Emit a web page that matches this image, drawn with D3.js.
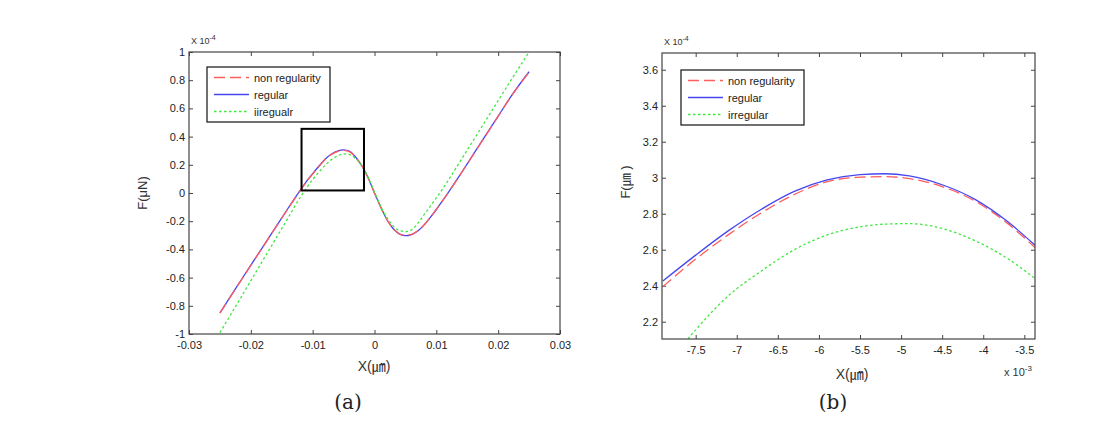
<!DOCTYPE html>
<html>
<head>
<meta charset="utf-8">
<script src="https://cdn.jsdelivr.net/npm/d3@7"></script>
<style>
  html, body { margin: 0; padding: 0; background: #fff; }
  svg { display: block; }
  text { font-family: "Liberation Sans", Arial, "Noto Sans CJK KR", sans-serif; }
</style>
</head>
<body>
<svg id="chart" width="1106" height="422"></svg>
<script>
// ---------- DATA ----------
const seriesNames = ["non regularity", "regular", "iiregualr"];
const seriesNamesB = ["non regularity", "regular", "irregular"];

// Panel (a): X in µm, F in units of 1e-4 µN
const xA = [-0.025, -0.022, -0.020, -0.018, -0.016, -0.014, -0.012, -0.011, -0.010, -0.009,
            -0.008, -0.007, -0.006, -0.005, -0.004, -0.003, -0.002, -0.001, 0, 0.001,
            0.002, 0.003, 0.004, 0.005, 0.006, 0.007, 0.008, 0.009, 0.010, 0.011,
            0.012, 0.014, 0.016, 0.018, 0.020, 0.022, 0.025];
const regularA = [-0.85, -0.647, -0.512, -0.378, -0.244, -0.11, 0.02, 0.083, 0.138, 0.19,
                  0.24, 0.275, 0.297, 0.306, 0.295, 0.252, 0.19, 0.105, 0.0, -0.1,
                  -0.188, -0.252, -0.29, -0.303, -0.295, -0.27, -0.228, -0.175, -0.117, -0.055,
                  0.008, 0.14, 0.275, 0.41, 0.545, 0.68, 0.86];
const nonRegA = [-0.852, -0.648, -0.513, -0.379, -0.246, -0.112, 0.017, 0.08, 0.135, 0.187,
                 0.237, 0.272, 0.294, 0.302, 0.292, 0.25, 0.189, 0.104, -0.001, -0.1,
                 -0.188, -0.251, -0.289, -0.301, -0.293, -0.268, -0.227, -0.174, -0.116, -0.055,
                 0.007, 0.139, 0.274, 0.409, 0.544, 0.679, 0.857];
const irregA = [-0.99, -0.77, -0.622, -0.474, -0.326, -0.178, -0.03, 0.035, 0.095, 0.148,
                0.195, 0.235, 0.263, 0.277, 0.272, 0.243, 0.19, 0.108, 0.005, -0.095,
                -0.175, -0.233, -0.266, -0.274, -0.262, -0.215, -0.155, -0.095, -0.035, 0.028,
                0.095, 0.235, 0.375, 0.515, 0.655, 0.795, 1.0];
const zoomBoxA = { x0: -0.0118, x1: -0.0017, y0: 0.018, y1: 0.455 };

const xTicksA = [-0.03, -0.02, -0.01, 0, 0.01, 0.02, 0.03];
const xLabelsA = ["-0.03", "-0.02", "-0.01", "0", "0.01", "0.02", "0.03"];
const yTicksA = [-1, -0.8, -0.6, -0.4, -0.2, 0, 0.2, 0.4, 0.6, 0.8, 1];
const yLabelsA = ["-1", "-0.8", "-0.6", "-0.4", "-0.2", "0", "0.2", "0.4", "0.6", "0.8", "1"];

// Panel (b): X in units of 1e-3, F in units of 1e-4
const xB = [-7.9, -7.5, -7.1, -6.7, -6.3, -5.9, -5.5, -5.2, -4.9, -4.5, -4.1, -3.7, -3.37];
const regularB = [2.426, 2.57, 2.706, 2.825, 2.924, 2.988, 3.017, 3.022, 3.01, 2.961, 2.88, 2.755, 2.625];
const nonRegB = [2.395, 2.548, 2.684, 2.805, 2.907, 2.978, 3.003, 3.006, 2.995, 2.951, 2.87, 2.745, 2.612];
const irregB = [1.93, 2.155, 2.345, 2.482, 2.6, 2.682, 2.727, 2.742, 2.745, 2.718, 2.65, 2.55, 2.44];

const xTicksB = [-7.5, -7, -6.5, -6, -5.5, -5, -4.5, -4, -3.5];
const xLabelsB = ["-7.5", "-7", "-6.5", "-6", "-5.5", "-5", "-4.5", "-4", "-3.5"];
const yTicksB = [2.2, 2.4, 2.6, 2.8, 3.0, 3.2, 3.4, 3.6];
const yLabelsB = ["2.2", "2.4", "2.6", "2.8", "3", "3.2", "3.4", "3.6"];

// ---------- STYLE ----------
const colors = { nonreg: "#ff5c5c", regular: "#4646f0", irreg: "#3ee83e" };
const dashes = { nonreg: "11,5", regular: null, irreg: "2.5,2.5" };

const svg = d3.select("#chart");

function panel(opts) {
  const g = svg.append("g");
  const x = d3.scaleLinear().domain(opts.xDomain).range([opts.left, opts.right]);
  const y = d3.scaleLinear().domain(opts.yDomain).range([opts.bottom, opts.top]);
  const clipId = "clip-" + opts.id;
  svg.append("clipPath").attr("id", clipId).append("rect")
    .attr("x", opts.left).attr("y", opts.top)
    .attr("width", opts.right - opts.left).attr("height", opts.bottom - opts.top);

  const tickLen = 4;
  const axisStyle = sel => {
    sel.select(".domain").remove();
    sel.selectAll(".tick line").attr("stroke", "#444").attr("stroke-width", 1);
    sel.selectAll(".tick text").attr("fill", "#222").style("font-size", "11px")
       .style("font-family", '"Liberation Sans", Arial, sans-serif');
  };
  g.append("g").attr("transform", `translate(0,${opts.bottom})`)
    .call(d3.axisBottom(x).tickValues(opts.xTicks).tickSize(-tickLen).tickPadding(7)
      .tickFormat((d, i) => opts.xLabels[i]))
    .call(axisStyle);
  g.append("g").attr("transform", `translate(0,${opts.top})`)
    .call(d3.axisTop(x).tickValues(opts.xTicks).tickSize(-tickLen).tickFormat(""))
    .call(axisStyle);
  g.append("g").attr("transform", `translate(${opts.left},0)`)
    .call(d3.axisLeft(y).tickValues(opts.yTicks).tickSize(-tickLen).tickPadding(4)
      .tickFormat((d, i) => opts.yLabels[i]))
    .call(axisStyle);
  g.append("g").attr("transform", `translate(${opts.right},0)`)
    .call(d3.axisRight(y).tickValues(opts.yTicks).tickSize(-tickLen).tickFormat(""))
    .call(axisStyle);

  const line = d3.line().x(d => x(d[0])).y(d => y(d[1])).curve(d3.curveMonotoneX);
  const lg = g.append("g").attr("clip-path", `url(#${clipId})`);
  opts.series.forEach(s => {
    lg.append("path")
      .datum(opts.xs.map((v, i) => [v, s.values[i]]))
      .attr("fill", "none")
      .attr("stroke", colors[s.key])
      .attr("stroke-width", 1.3)
      .attr("stroke-dasharray", dashes[s.key])
      .attr("d", line);
  });

  g.append("rect").attr("x", opts.left).attr("y", opts.top)
    .attr("width", opts.right - opts.left).attr("height", opts.bottom - opts.top)
    .attr("fill", "none").attr("stroke", "#444").attr("stroke-width", 1.2);

  return { g, x, y };
}

function legend(g, lx, ly, w, h, names) {
  const lgd = g.append("g");
  lgd.append("rect").attr("x", lx).attr("y", ly).attr("width", w).attr("height", h)
    .attr("fill", "#fff").attr("stroke", "#111").attr("stroke-width", 1.2);
  const keys = ["nonreg", "regular", "irreg"];
  keys.forEach((k, i) => {
    const cy = ly + 10.5 + i * 17;
    lgd.append("line").attr("x1", lx + 7).attr("x2", lx + 42).attr("y1", cy).attr("y2", cy)
      .attr("stroke", colors[k]).attr("stroke-width", 1.4).attr("stroke-dasharray", dashes[k]);
    lgd.append("text").attr("x", lx + 47).attr("y", cy + 4)
      .attr("fill", "#222").style("font-size", "11px").text(names[i]);
  });
}

// ---------- PANEL A ----------
const A = panel({
  id: "a", left: 189, right: 560, top: 52, bottom: 334,
  xDomain: [-0.03, 0.03], yDomain: [-1, 1],
  xTicks: xTicksA, xLabels: xLabelsA, yTicks: yTicksA, yLabels: yLabelsA,
  xs: xA,
  series: [
    { key: "regular", values: regularA },
    { key: "nonreg", values: nonRegA },
    { key: "irreg", values: irregA }
  ]
});
A.g.append("rect")
  .attr("x", A.x(zoomBoxA.x0)).attr("y", A.y(zoomBoxA.y1))
  .attr("width", A.x(zoomBoxA.x1) - A.x(zoomBoxA.x0))
  .attr("height", A.y(zoomBoxA.y0) - A.y(zoomBoxA.y1))
  .attr("fill", "none").attr("stroke", "#000").attr("stroke-width", 2);
legend(A.g, 207, 67, 123, 55, seriesNames);

const expA = svg.append("text").attr("x", 191).attr("y", 44).attr("fill", "#333").style("font-size", "9px");
expA.append("tspan").text("X 10");
expA.append("tspan").attr("dy", -4).style("font-size", "7px").text("-4");

svg.append("text").attr("x", 374).attr("y", 371).attr("text-anchor", "middle")
  .attr("fill", "#333").style("font-size", "14px")
  .style("font-family", '"Liberation Sans", Arial, "Noto Sans CJK KR", sans-serif')
  .text("X(㎛)");
svg.append("text").attr("transform", "translate(147,193) rotate(-90)").attr("text-anchor", "middle")
  .attr("fill", "#333").style("font-size", "13px").text("F(μN)");
svg.append("text").attr("x", 348).attr("y", 409).attr("text-anchor", "middle")
  .attr("fill", "#222").style("font-size", "20px")
  .style("font-family", '"DejaVu Serif", "Liberation Serif", serif').text("(a)");

// ---------- PANEL B ----------
const B = panel({
  id: "b", left: 662, right: 1035, top: 53, bottom: 339,
  xDomain: [-7.91, -3.37], yDomain: [2.104, 3.693],
  xTicks: xTicksB, xLabels: xLabelsB, yTicks: yTicksB, yLabels: yLabelsB,
  xs: xB,
  series: [
    { key: "nonreg", values: nonRegB },
    { key: "regular", values: regularB },
    { key: "irreg", values: irregB }
  ]
});
legend(B.g, 681, 70, 123, 55, seriesNamesB);

const expB = svg.append("text").attr("x", 664).attr("y", 45).attr("fill", "#333").style("font-size", "9px");
expB.append("tspan").text("X 10");
expB.append("tspan").attr("dy", -4).style("font-size", "7px").text("-4");

const expB2 = svg.append("text").attr("x", 1004).attr("y", 376).attr("fill", "#333").style("font-size", "11px");
expB2.append("tspan").text("x 10");
expB2.append("tspan").attr("dy", -5).style("font-size", "8px").text("-3");

svg.append("text").attr("x", 852).attr("y", 379).attr("text-anchor", "middle")
  .attr("fill", "#333").style("font-size", "14px")
  .style("font-family", '"Liberation Sans", Arial, "Noto Sans CJK KR", sans-serif')
  .text("X(㎛)");
svg.append("text").attr("transform", "translate(630,182) rotate(-90)").attr("text-anchor", "middle")
  .attr("fill", "#333").style("font-size", "13px")
  .style("font-family", '"Liberation Sans", Arial, "Noto Sans CJK KR", sans-serif')
  .text("F(㎛ )");
svg.append("text").attr("x", 833).attr("y", 409).attr("text-anchor", "middle")
  .attr("fill", "#222").style("font-size", "20px")
  .style("font-family", '"DejaVu Serif", "Liberation Serif", serif').text("(b)");
</script>
</body>
</html>
